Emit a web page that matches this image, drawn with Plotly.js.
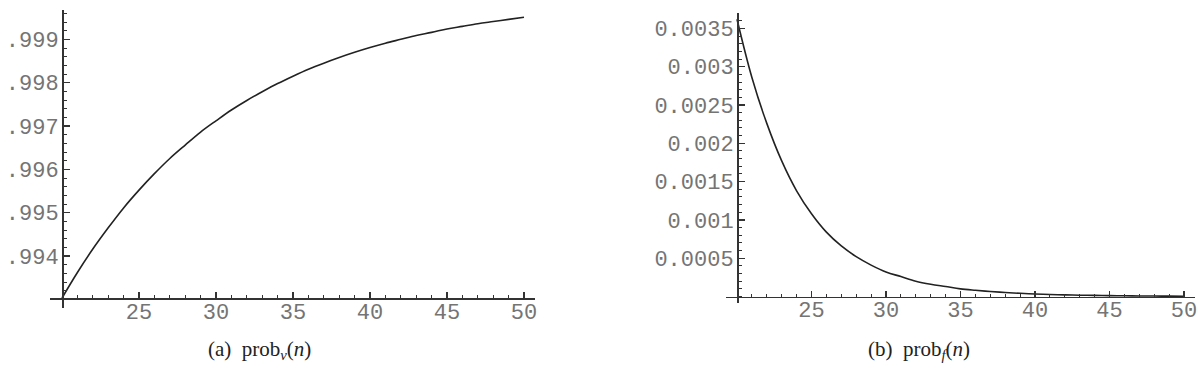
<!DOCTYPE html>
<html>
<head>
<meta charset="utf-8">
<script src="https://cdn.plot.ly/plotly-3.0.1.min.js"></script>
<style>html,body{margin:0;padding:0;background:#fff}#chart{width:1198px;height:389px}</style>
</head>
<body>
<div id="chart"></div>
<script>
// n values
const nValues = [20,21,22,23,24,25,26,27,28,29,30,31,32,33,34,35,36,37,38,39,40,41,42,43,44,45,46,47,48,49,50];
// (a) prob_v(n)
const probV = [0.99303,0.99362,0.99416,0.99465,0.99511,0.99552,0.99590,0.99625,0.99656,0.99686,0.99712,
               0.99737,0.99759,0.99779,0.99798,0.99815,0.99831,0.99845,0.99858,0.99870,0.99881,
               0.99891,0.99900,0.99909,0.99916,0.99924,0.99930,0.99936,0.99941,0.99946,0.99951];
// (b) prob_f(n)
const probF = [0.00362,0.00286,0.00226,0.00177,0.00138,0.00108,0.00084,0.00066,0.00052,0.00041,0.00032,
               0.00026,0.00020,0.00016,0.00013,0.00010,0.000081,0.000065,0.000052,0.000042,0.000033,
               0.000027,0.000021,0.000017,0.000014,0.000011,0.0000088,0.0000070,0.0000056,0.0000045,0.0000036];
// tick labels
const xTickVals = [25,30,35,40,45,50];
const xTickText = ['25','30','35','40','45','50'];
const yTickValsA = [0.994,0.995,0.996,0.997,0.998,0.999];
const yTickTextA = ['.994','.995','.996','.997','.998','.999'];
const yTickValsB = [0.0005,0.001,0.0015,0.002,0.0025,0.003,0.0035];
const yTickTextB = ['0.0005','0.001','0.0015','0.002','0.0025','0.003','0.0035'];
const captionA = '(a)&nbsp;&nbsp;prob<sub><i>v</i></sub>(<i>n</i>)';
const captionB = '(b)&nbsp;&nbsp;prob<sub><i>f</i></sub>(<i>n</i>)';

const W = 1198, H = 389;
const tickFont = {family: 'Liberation Mono, Courier New, monospace', size: 22, color: '#747474'};
const axColor = '#333';

function xAxis(domainPx, range, posPx) {
  return {
    domain: [domainPx[0]/W, domainPx[1]/W], range: range, anchor: 'free', position: 1 - posPx/H,
    showline: true, linecolor: axColor, linewidth: 1.5, showgrid: false, zeroline: false,
    tickmode: 'array', tickvals: xTickVals, ticktext: xTickText,
    ticks: 'inside', ticklen: 6, tickwidth: 1.2, tickcolor: axColor, tickfont: tickFont,
    ticklabelstandoff: -7,
    minor: {dtick: 1, tick0: 0, ticks: 'inside', ticklen: 3, tickwidth: 1, tickcolor: axColor},
    fixedrange: true
  };
}
function yAxis(domainPx, range, posPx, vals, text, minorStep) {
  return {
    domain: [1 - domainPx[1]/H, 1 - domainPx[0]/H], range: range, anchor: 'free', position: posPx/W,
    showline: true, linecolor: axColor, linewidth: 1.5, showgrid: false, zeroline: false,
    tickmode: 'array', tickvals: vals, ticktext: text,
    ticks: 'inside', ticklen: 6, tickwidth: 1.2, tickcolor: axColor, tickfont: tickFont,
    ticklabelstandoff: -1,
    minor: {dtick: minorStep, tick0: 0, ticks: 'inside', ticklen: 3, tickwidth: 1, tickcolor: axColor},
    fixedrange: true
  };
}

const data = [
  {x: nValues, y: probV, type: 'scatter', mode: 'lines', line: {color: '#222', width: 1.6, shape: 'spline'},
   xaxis: 'x', yaxis: 'y', hoverinfo: 'skip'},
  {x: nValues, y: probF, type: 'scatter', mode: 'lines', line: {color: '#222', width: 1.6, shape: 'spline'},
   xaxis: 'x2', yaxis: 'y2', hoverinfo: 'skip'}
];

const capFont = {family: 'Liberation Serif, Times New Roman, serif', size: 21, color: '#222'};
const layout = {
  width: W, height: H, margin: {l: 0, r: 0, t: 0, b: 0},
  paper_bgcolor: '#fff', plot_bgcolor: 'rgba(0,0,0,0)', showlegend: false,
  xaxis: xAxis([50, 535], [19.221, 50.714], 298),
  yaxis: yAxis([10, 308], [0.992800, 0.999677], 62, yTickValsA, yTickTextA, 0.0002),
  xaxis2: xAxis([726, 1195], [19.262, 50.738], 296.5),
  yaxis2: yAxis([12.7, 302.7], [-0.000081, 0.003705], 737, yTickValsB, yTickTextB, 0.0001),
  annotations: [
    {text: captionA, xref: 'paper', yref: 'paper', x: 259/W, y: 1 - 350/H, showarrow: false,
     xanchor: 'center', yanchor: 'middle', font: capFont},
    {text: captionB, xref: 'paper', yref: 'paper', x: 919/W, y: 1 - 350/H, showarrow: false,
     xanchor: 'center', yanchor: 'middle', font: capFont}
  ]
};

Plotly.newPlot('chart', data, layout, {displayModeBar: false, staticPlot: true});
</script>
</body>
</html>
